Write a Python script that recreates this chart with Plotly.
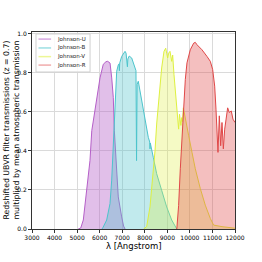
import plotly.graph_objects as go

# ---- data ----
u_wl = [5050, 5160, 5275, 5425, 5570, 5650, 5870, 6015, 6160, 6280, 6355, 6460, 6535, 6605, 6650, 6725, 6825, 6975, 7060, 7125]
u_t = [0.0, 0.005, 0.046, 0.198, 0.35, 0.503, 0.672, 0.773, 0.843, 0.856, 0.858, 0.849, 0.773, 0.672, 0.503, 0.335, 0.164, 0.062, 0.015, 0.0]

b_wl = [6100, 6135, 6311, 6458, 6533, 6605, 6650, 6700, 6755, 6826, 6860, 6875, 6890, 6976, 7080, 7124, 7170, 7230, 7250, 7310, 7420, 7520, 7566, 7610, 7635, 7660, 7712, 7788, 7862, 8010, 8156, 8220, 8231, 8245, 8377, 8527, 8749, 8971, 9193, 9340, 9420]
b_t = [0.0, 0.005, 0.046, 0.13, 0.25, 0.42, 0.5, 0.672, 0.807, 0.84, 0.845, 0.81, 0.85, 0.883, 0.905, 0.909, 0.9, 0.83, 0.87, 0.885, 0.875, 0.843, 0.824, 0.81, 0.35, 0.74, 0.756, 0.706, 0.655, 0.57, 0.469, 0.445, 0.41, 0.44, 0.367, 0.283, 0.198, 0.113, 0.046, 0.012, 0.0]

v_wl = [7950, 8084, 8231, 8377, 8453, 8527, 8645, 8749, 8852, 8927, 8970, 9015, 9060, 9118, 9193, 9236, 9295, 9384, 9443, 9500, 9540, 9575, 9600, 9640, 9670, 9710, 9740, 9797, 9947, 10093, 10240, 10462, 10683, 10905, 11052, 11423, 12000]
v_t = [0.0, 0.012, 0.113, 0.283, 0.4, 0.537, 0.706, 0.824, 0.909, 0.925, 0.9, 0.875, 0.9, 0.909, 0.858, 0.89, 0.79, 0.672, 0.553, 0.511, 0.587, 0.56, 0.53, 0.57, 0.55, 0.62, 0.6, 0.562, 0.477, 0.392, 0.308, 0.207, 0.122, 0.054, 0.02, 0.012, 0.004]

r_wl = [9420, 9500, 9575, 9650, 9700, 9725, 9740, 9760, 9797, 9871, 10018, 10167, 10240, 10314, 10536, 10758, 10905, 11010, 11099, 11157, 11202, 11246, 11305, 11365, 11423, 11483, 11543, 11600, 11675, 11747, 11835, 11910, 12000]
r_t = [0.0, 0.12, 0.308, 0.477, 0.58, 0.646, 0.63, 0.72, 0.765, 0.85, 0.917, 0.951, 0.955, 0.943, 0.917, 0.883, 0.858, 0.816, 0.731, 0.613, 0.477, 0.392, 0.579, 0.426, 0.545, 0.41, 0.511, 0.562, 0.62, 0.596, 0.604, 0.562, 0.545]

names = ["Johnson-U", "Johnson-B", "Johnson-V", "Johnson-R"]
line_colors = ["rgb(181,95,200)", "rgb(76,196,204)", "rgb(222,240,64)", "rgb(224,72,72)"]
fill_colors = ["rgba(181,95,200,0.4)", "rgba(76,196,204,0.35)", "rgba(222,240,64,0.3)", "rgba(224,72,72,0.35)"]
leg_colors = ["rgba(181,95,200,0.55)", "rgba(76,196,204,0.55)", "rgba(222,240,64,0.55)", "rgba(224,72,72,0.45)"]

x_ticks = list(range(3000, 12001, 1000))
x_ticktext = [str(v) for v in x_ticks]
y_ticks = [0.0, 0.2, 0.4, 0.6, 0.8, 1.0]
y_ticktext = ["0.0", "0.2", "0.4", "0.6", "0.8", "1.0"]

FONT = "DejaVu Sans"

fig = go.Figure()
for wl, t, nm, lc, fc in zip([u_wl, b_wl, v_wl, r_wl], [u_t, b_t, v_t, r_t], names, line_colors, fill_colors):
    fig.add_trace(go.Scatter(x=wl, y=t, name=nm, mode="lines", fill="tozeroy",
                             line=dict(color=lc, width=1), fillcolor=fc, showlegend=False))

axis_common = dict(showline=True, mirror=True, linecolor="#333", linewidth=1,
                   ticks="outside", ticklen=3, tickwidth=1, tickcolor="#333",
                   showgrid=True, gridcolor="#dadada", gridwidth=1, zeroline=False,
                   tickfont=dict(family=FONT, size=6, color="#000"))

fig.update_layout(
    width=262, height=262,
    margin=dict(l=32, r=27, t=32, b=33),
    paper_bgcolor="white", plot_bgcolor="white",
    xaxis=dict(range=[3000, 12000], tickvals=x_ticks, ticktext=x_ticktext, **axis_common),
    yaxis=dict(range=[0, 1.008], tickvals=y_ticks, ticktext=y_ticktext, **axis_common),
    showlegend=False,
)

# axis titles
fig.add_annotation(text="λ [Angstrom]", xref="paper", yref="paper", x=0.5, y=-0.086,
                   showarrow=False, font=dict(family=FONT, size=8.5, color="#000"),
                   xanchor="center", yanchor="middle")
fig.add_annotation(text="Redshifted UBVR filter transmissions (z = 0.7)", xref="paper", yref="paper",
                   x=0, y=0.5, xshift=-26, textangle=-90, showarrow=False,
                   font=dict(family=FONT, size=7.8, color="#000"), xanchor="center", yanchor="middle")
fig.add_annotation(text="multiplied by mean atmospheric transmission", xref="paper", yref="paper",
                   x=0, y=0.5, xshift=-16, textangle=-90, showarrow=False,
                   font=dict(family=FONT, size=7.8, color="#000"), xanchor="center", yanchor="middle")

# manual legend
fig.add_shape(type="rect", xref="paper", yref="paper", x0=0.0197, x1=0.286, y0=0.797, y1=0.99,
              line=dict(color="#d0d0d0", width=1), fillcolor="rgba(255,255,255,0.85)", layer="above")
leg_y = [0.964, 0.919, 0.875, 0.832]
for nm, lc, yy in zip(names, leg_colors, leg_y):
    fig.add_shape(type="line", xref="paper", yref="paper", x0=0.032, x1=0.094, y0=yy, y1=yy,
                  line=dict(color=lc, width=1.5), layer="above")
    fig.add_annotation(text=nm, xref="paper", yref="paper", x=0.112, y=yy, showarrow=False,
                       xanchor="left", yanchor="middle", font=dict(family=FONT, size=5.5, color="#222"))

fig.write_html("out.html", config={"displayModeBar": False},
               post_script="document.body.style.margin='0';document.body.style.padding='0';")
